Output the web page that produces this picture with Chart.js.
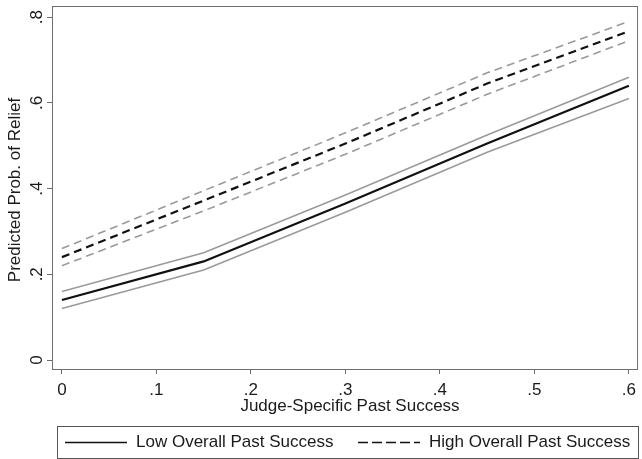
<!DOCTYPE html>
<html>
<head>
<meta charset="utf-8">
<style>
html,body{margin:0;padding:0;background:#fff;}
#wrap{width:642px;height:459px;position:relative;}
</style>
<script src="https://cdn.jsdelivr.net/npm/chart.js@4"></script>
</head>
<body>
<div id="wrap"><canvas id="c" width="642" height="459"></canvas></div>
<script>
const xValues = [0, 0.15, 0.3, 0.45, 0.6];
const lowMean = [0.14, 0.23, 0.365, 0.505, 0.64];
const lowUpper = [0.16, 0.25, 0.385, 0.525, 0.66];
const lowLower = [0.12, 0.21, 0.345, 0.485, 0.61];
const highMean = [0.24, 0.372, 0.505, 0.645, 0.767];
const highUpper = [0.26, 0.395, 0.53, 0.67, 0.79];
const highLower = [0.22, 0.348, 0.48, 0.62, 0.745];
const xTicks = [0, 0.1, 0.2, 0.3, 0.4, 0.5, 0.6];
const yTicks = [0, 0.2, 0.4, 0.6, 0.8];
const xTitle = 'Judge-Specific Past Success';
const yTitle = 'Predicted Prob. of Relief';
const lowLabel = 'Low Overall Past Success';
const highLabel = 'High Overall Past Success';

const FONT = '"Liberation Sans", Arial, sans-serif';
const FS = 17;
const TEXT = '#1a1a1a';

function pts(arr){ return xValues.map((x,i)=>({x:x, y:arr[i]})); }
function fmt(v){
  const r = Math.round(v*10)/10;
  if (r === 0) return '0';
  return String(r).replace(/^0/, '');
}

const ciGray = '#9a9a9a';
const datasets = [
  {label:'lowU', data:pts(lowUpper), borderColor:ciGray, borderWidth:1.6},
  {label:'lowL', data:pts(lowLower), borderColor:ciGray, borderWidth:1.6},
  {label:'highU', data:pts(highUpper), borderColor:ciGray, borderWidth:1.6, borderDash:[8,5]},
  {label:'highL', data:pts(highLower), borderColor:ciGray, borderWidth:1.6, borderDash:[8,5]},
  {label:lowLabel, data:pts(lowMean), borderColor:'#111', borderWidth:2.2, legend:true, sample:[]},
  {label:highLabel, data:pts(highMean), borderColor:'#111', borderWidth:2.2, borderDash:[8,5], legend:true, sample:[10,4]}
].map(d=>Object.assign({pointRadius:0, fill:false, tension:0, borderCapStyle:'butt'}, d));

const decor = {
  id:'decor',
  afterDraw(chart){
    const ctx = chart.ctx, a = chart.chartArea;
    ctx.save();
    // plot border
    ctx.strokeStyle = '#6e6e6e';
    ctx.lineWidth = 1;
    ctx.strokeRect(a.left+0.5, a.top+0.5, a.right-a.left, a.bottom-a.top);
    // y tick labels rotated
    const ys = chart.scales.y;
    ctx.fillStyle = TEXT;
    ctx.font = FS + 'px ' + FONT;
    ctx.textAlign = 'center';
    ctx.textBaseline = 'middle';
    ys.ticks.forEach(t=>{
      const py = ys.getPixelForValue(t.value);
      ctx.save();
      ctx.translate(37, py);
      ctx.rotate(-Math.PI/2);
      ctx.fillText(fmt(t.value), 0, 0);
      ctx.restore();
    });
    // y title
    ctx.save();
    ctx.translate(15, 190);
    ctx.rotate(-Math.PI/2);
    ctx.fillText(yTitle, 0, 0);
    ctx.restore();
    // x title
    ctx.fillText(xTitle, 350, 406);
    // legend
    const lx = 57, ly = 426, lw = 581, lh = 32;
    ctx.strokeStyle = '#555';
    ctx.strokeRect(lx+0.5, ly+0.5, lw, lh);
    const cy = ly + lh/2 + 0.5;
    const items = chart.data.datasets.filter(d=>d.legend);
    const starts = [65, 358];
    items.forEach((d,i)=>{
      const sx = starts[i];
      ctx.beginPath();
      ctx.strokeStyle = '#111';
      ctx.lineWidth = 1.6;
      ctx.setLineDash(d.sample || []);
      ctx.moveTo(sx, cy);
      ctx.lineTo(sx+62, cy);
      ctx.stroke();
      ctx.setLineDash([]);
      ctx.textAlign = 'left';
      ctx.fillText(d.label, sx + 71, cy);
    });
    ctx.restore();
  }
};

new Chart(document.getElementById('c'), {
  type:'line',
  data:{datasets:datasets},
  options:{
    responsive:false,
    animation:false,
    layout:{padding:{left:0, top:6, right:0, bottom:0}},
    plugins:{legend:{display:false}, tooltip:{enabled:false}},
    scales:{
      x:{
        type:'linear', min:-0.0105, max:0.6086,
        afterBuildTicks(s){ s.ticks = xTicks.map(v=>({value:v})); },
        afterFit(s){ s.height = 90; },
        grid:{drawOnChartArea:false, drawTicks:true, tickLength:5, color:'#6e6e6e'},
        border:{display:true, color:'#6e6e6e'},
        ticks:{color:TEXT, font:{family:FONT, size:FS}, padding:6, maxRotation:0, callback:(v)=>fmt(v)}
      },
      y:{
        type:'linear', min:-0.021, max:0.826,
        afterBuildTicks(s){ s.ticks = yTicks.map(v=>({value:v})); },
        afterFit(s){ s.width = 52; },
        grid:{drawOnChartArea:false, drawTicks:true, tickLength:5, color:'#6e6e6e'},
        border:{display:true, color:'#6e6e6e'},
        ticks:{display:false}
      }
    }
  },
  plugins:[decor]
});
</script>
</body>
</html>
